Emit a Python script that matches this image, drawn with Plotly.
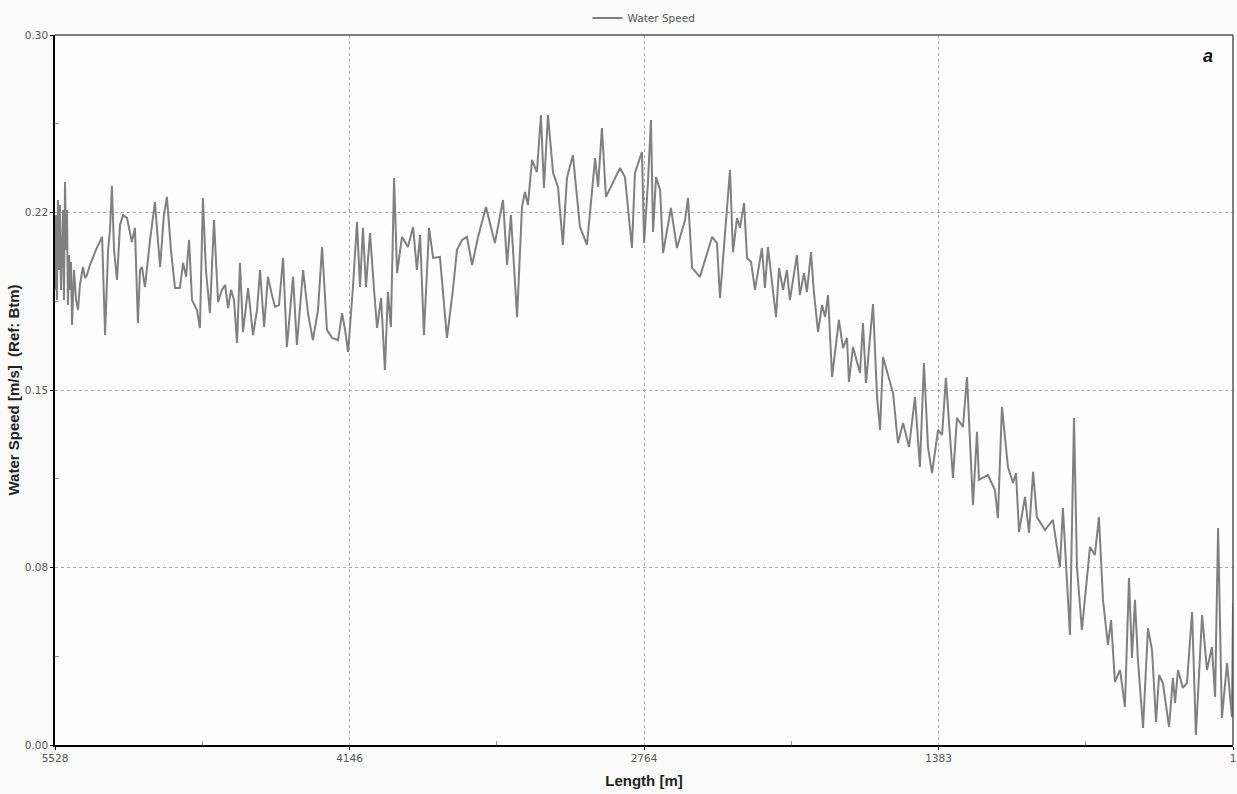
import plotly.graph_objects as go

# Length along transect [m] (axis runs from 5528 down to 1)
length_m = [5528, 5523, 5519, 5514, 5509, 5505, 5500, 5495, 5490, 5486, 5481, 5476, 5472, 5467, 5462, 5458, 5453, 5448,
            5439, 5429, 5420, 5411, 5397, 5387, 5378, 5364, 5336, 5307, 5293, 5279, 5270, 5261, 5251, 5237, 5223, 5209,
            5190, 5167, 5153, 5139, 5129, 5120, 5106, 5082, 5059, 5049, 5035, 5017, 5003, 4984, 4965, 4942, 4927, 4913,
            4899, 4885, 4862, 4848, 4834, 4820, 4801, 4782, 4773, 4763, 4745, 4730, 4716, 4702, 4688, 4674, 4660, 4646,
            4622, 4599, 4580, 4566, 4547, 4529, 4510, 4496, 4477, 4458, 4440, 4411, 4393, 4378, 4364, 4341, 4318, 4294,
            4275, 4252, 4228, 4200, 4181, 4167, 4153, 4130, 4111, 4097, 4083, 4069, 4050, 4031, 4017, 3998, 3980, 3966,
            3952, 3937, 3923, 3900, 3872, 3848, 3830, 3815, 3797, 3773, 3754, 3722, 3689, 3661, 3642, 3618, 3595, 3571,
            3543, 3506, 3464, 3426, 3407, 3389, 3360, 3337, 3323, 3309, 3290, 3267, 3248, 3234, 3215, 3191, 3168, 3145,
            3126, 3098, 3065, 3032, 2994, 2980, 2962, 2943, 2877, 2854, 2821, 2807, 2774, 2764, 2746, 2732, 2722, 2708,
            2689, 2675, 2638, 2610, 2572, 2558, 2539, 2502, 2445, 2422, 2408, 2361, 2347, 2328, 2314, 2295, 2281, 2262,
            2244, 2211, 2197, 2183, 2145, 2131, 2112, 2094, 2080, 2047, 2033, 2014, 2000, 1981, 1967, 1948, 1929, 1915,
            1901, 1882, 1850, 1831, 1812, 1803, 1784, 1751, 1737, 1723, 1690, 1671, 1657, 1643, 1596, 1573, 1549, 1521,
            1493, 1470, 1451, 1432, 1413, 1385, 1366, 1348, 1315, 1296, 1268, 1249, 1221, 1202, 1193, 1151, 1118, 1104,
            1085, 1057, 1033, 1019, 1005, 977, 958, 939, 921, 883, 846, 813, 799, 766, 747, 733, 710, 672, 649, 630,
            611, 588, 573, 555, 531, 508, 489, 475, 461, 447, 423, 400, 381, 362, 348, 330, 301, 283, 273, 259,
            236, 217, 193, 175, 146, 123, 100, 85, 71, 53, 29, 6, 1]

# Water speed [m/s] (Ref: Btm)
water_speed = [0.1923, 0.2239, 0.1880, 0.2303, 0.2007, 0.2282, 0.1923, 0.2155, 0.2261, 0.1880, 0.2379, 0.2092, 0.2261,
               0.1859, 0.2070, 0.1923, 0.2041, 0.1775, 0.2007, 0.1880, 0.1838, 0.1944, 0.2020, 0.1973, 0.1986, 0.2028,
               0.2092, 0.2147, 0.1732, 0.2092, 0.2176, 0.2362, 0.2092, 0.1965, 0.2197, 0.2239, 0.2227, 0.2125, 0.2185,
               0.1783, 0.2007, 0.2020, 0.1935, 0.2134, 0.2294, 0.2176, 0.2020, 0.2239, 0.2316, 0.2092, 0.1931, 0.1931,
               0.2037, 0.1978, 0.2134, 0.1880, 0.1838, 0.1762, 0.2311, 0.2007, 0.1825, 0.2218, 0.2049, 0.1872, 0.1923,
               0.1944, 0.1846, 0.1923, 0.1880, 0.1699, 0.2037, 0.1745, 0.1931, 0.1732, 0.1838, 0.2007, 0.1766, 0.1978,
               0.1901, 0.1851, 0.1859, 0.2058, 0.1682, 0.1978, 0.1690, 0.1838, 0.2007, 0.1825, 0.1711, 0.1838, 0.2104,
               0.1754, 0.1720, 0.1711, 0.1825, 0.1754, 0.1661, 0.1935, 0.2210, 0.1935, 0.2185, 0.1935, 0.2163, 0.1923,
               0.1762, 0.1889, 0.1585, 0.1914, 0.1766, 0.2396, 0.1994, 0.2147, 0.2104, 0.2189, 0.2007, 0.2155, 0.1732,
               0.2185, 0.2058, 0.2062, 0.1720, 0.1923, 0.2092, 0.2134, 0.2147, 0.2028, 0.2147, 0.2273, 0.2121, 0.2303,
               0.2028, 0.2239, 0.1808, 0.2273, 0.2337, 0.2282, 0.2472, 0.2421, 0.2662, 0.2354, 0.2662, 0.2417, 0.2358,
               0.2113, 0.2396, 0.2493, 0.2189, 0.2113, 0.2480, 0.2358, 0.2607, 0.2316, 0.2438, 0.2400, 0.2100, 0.2417,
               0.2506, 0.2121, 0.2375, 0.2641, 0.2168, 0.2400, 0.2345, 0.2079, 0.2269, 0.2100, 0.2218, 0.2311, 0.2016,
               0.1978, 0.2147, 0.2121, 0.1889, 0.2430, 0.2083, 0.2227, 0.2185, 0.2290, 0.2058, 0.2041, 0.1923, 0.2100,
               0.1931, 0.2104, 0.1808, 0.2016, 0.1923, 0.2007, 0.1880, 0.2070, 0.1901, 0.1994, 0.1914, 0.2083, 0.1910,
               0.1745, 0.1859, 0.1808, 0.1901, 0.1555, 0.1796, 0.1677, 0.1720, 0.1534, 0.1682, 0.1572, 0.1783, 0.1530,
               0.1863, 0.1470, 0.1331, 0.1639, 0.1487, 0.1276, 0.1361, 0.1259, 0.1470, 0.1175, 0.1614, 0.1259, 0.1149,
               0.1331, 0.1310, 0.1551, 0.1128, 0.1382, 0.1344, 0.1555, 0.1014, 0.1323, 0.1120, 0.1141, 0.1077, 0.0959,
               0.1428, 0.1175, 0.1107, 0.1149, 0.0900, 0.1048, 0.0896, 0.1154, 0.0963, 0.0908, 0.0951, 0.0752, 0.1001,
               0.0465, 0.1382, 0.0752, 0.0486, 0.0837, 0.0803, 0.0963, 0.0613, 0.0423, 0.0528, 0.0266, 0.0317, 0.0161,
               0.0706, 0.0368, 0.0613, 0.0359, 0.0072, 0.0494, 0.0401, 0.0097, 0.0296, 0.0262, 0.0076, 0.0283, 0.0177,
               0.0317, 0.0241, 0.0262, 0.0562, 0.0042, 0.0549, 0.0317, 0.0414, 0.0203, 0.0917, 0.0114, 0.0346, 0.0118,
               0.0600]

x_tickvals = [5528, 4146.25, 2764.5, 1382.75, 1]
x_ticktext = ["5528", "4146", "2764", "1383", "1"]
x_minor = [4837.125, 3455.375, 2073.625, 691.875]
y_tickvals = [0.0, 0.075, 0.15, 0.225, 0.30]
y_ticktext = ["0.00", "0.08", "0.15", "0.22", "0.30"]
y_minor = [0.0375, 0.1125, 0.1875, 0.2625]

FONT = "Liberation Sans, Arial, sans-serif"
SMALL = "DejaVu Sans, Verdana, sans-serif"

fig = go.Figure()
fig.add_trace(go.Scatter(
    x=length_m, y=water_speed, mode="lines", name="Water Speed",
    line=dict(color="#808080", width=2),
))

fig.update_layout(
    width=1237, height=794,
    margin=dict(l=55, r=4, t=35, b=49, autoexpand=False),
    paper_bgcolor="#fbfbfb",
    plot_bgcolor="#fefefe",
    font=dict(family=SMALL, size=10.5, color="#555555"),
    showlegend=True,
    legend=dict(orientation="h", x=0.5, xanchor="center", y=1.024, yanchor="middle",
                font=dict(family=SMALL, size=10.5, color="#555555"), bgcolor="rgba(0,0,0,0)",
                itemwidth=30),
)

fig.update_xaxes(
    range=[5528, 1], autorange=False, automargin=False,
    tickmode="array", tickvals=x_tickvals, ticktext=x_ticktext,
    ticks="outside", ticklen=3, tickcolor="#000000",
    showline=True, linecolor="#000000", linewidth=1.5, mirror=False,
    showgrid=True, gridcolor="#a8a8a8", griddash="3px,3px", gridwidth=1,
    zeroline=False,
    minor=dict(tickvals=x_minor, ticks="inside", ticklen=4, tickcolor="#999999", showgrid=False),
    tickfont=dict(family=SMALL, size=10.5, color="#555555"),
    title=dict(text="<b>Length [m]</b>", font=dict(family=FONT, size=15, color="#222222"), standoff=12),
)
fig.update_yaxes(
    range=[0, 0.30], autorange=False, automargin=False,
    tickmode="array", tickvals=y_tickvals, ticktext=y_ticktext,
    ticks="outside", ticklen=3, tickcolor="#000000",
    showline=True, linecolor="#000000", linewidth=1.5, mirror=False,
    showgrid=True, gridcolor="#a8a8a8", griddash="3px,3px", gridwidth=1,
    zeroline=False,
    minor=dict(tickvals=y_minor, ticks="inside", ticklen=4, tickcolor="#999999", showgrid=False),
    tickfont=dict(family=SMALL, size=10.5, color="#555555"),
    title=dict(text="<b>Water Speed [m/s]  (Ref: Btm)</b>", font=dict(family=FONT, size=15, color="#222222"), standoff=2),
)

# top and right frame lines
fig.add_shape(type="line", xref="paper", yref="paper", x0=0, x1=1, y0=1, y1=1,
              line=dict(color="#555555", width=1.5))
fig.add_shape(type="line", xref="paper", yref="paper", x0=1, x1=1, y0=0, y1=1,
              line=dict(color="#555555", width=1.5))

fig.add_annotation(text="<b><i>a</i></b>", xref="paper", yref="paper", x=0.985, y=0.97,
                   xanchor="right", yanchor="middle", showarrow=False,
                   font=dict(size=18, color="#111111", family=FONT))

fig.write_html(
    "out.html",
    config={"responsive": False, "displayModeBar": False},
    post_script="document.body.style.margin='0';document.body.style.padding='0';"
                "document.body.style.overflow='hidden';document.body.style.background='#fbfbfb';",
)
